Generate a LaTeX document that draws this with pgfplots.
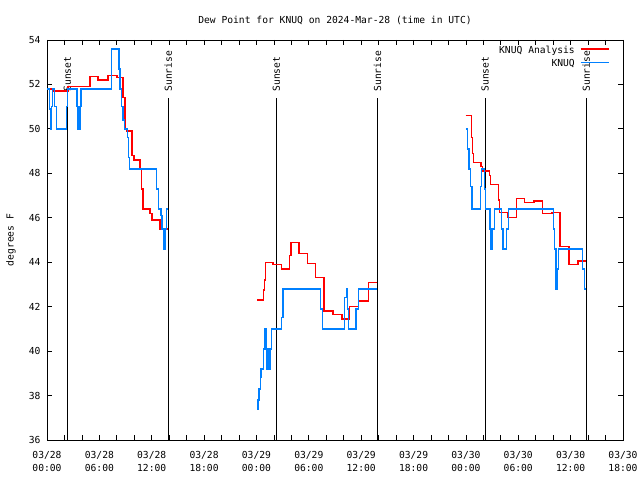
\documentclass[border=0pt]{standalone}
\usepackage{fontspec}
\setmainfont{DejaVu Sans Mono}
\usepackage{pgfplots}
\pgfplotsset{compat=1.18}
\definecolor{anared}{RGB}{255,0,0}
\definecolor{obsblue}{RGB}{0,128,255}

\begin{document}
\begin{tikzpicture}[font=\fontsize{9.7}{13}\selectfont]
\path[use as bounding box] (-47bp,-40bp) rectangle (593bp,440bp);
\begin{axis}[
    at={(0,0)}, anchor=south west,
    scale only axis, width=576bp, height=400bp,
    xmin=0, xmax=66, ymin=36, ymax=54,
    xtick={0,6,...,66},
    minor x tick num=2,
    xticklabels={{03/28\\00:00},{03/28\\06:00},{03/28\\12:00},{03/28\\18:00},
                 {03/29\\00:00},{03/29\\06:00},{03/29\\12:00},{03/29\\18:00},
                 {03/30\\00:00},{03/30\\06:00},{03/30\\12:00},{03/30\\18:00}},
    xticklabel style={align=center, yshift=-8bp},
    yticklabel style={xshift=-3bp},
    ytick={36,38,...,54},
    tick align=inside,
    major tick length=5bp, minor tick length=5bp,
    tick style={black, line width=0.8bp},
    axis line style={line width=0.8bp},
    /pgf/number format/assume math mode=true,
    title={Dew Point for KNUQ on 2024-Mar-28 (time in UTC)},
    title style={at={(axis description cs:0.5,1.035)}, anchor=center, inner sep=0pt},
    ylabel={degrees F},
    ylabel style={at={(axis description cs:-0.0625,0.5)}, anchor=center, inner sep=0pt},
    every axis plot/.append style={line width=1.3bp, const plot mark left},
]
% sunset / sunrise markers and labels first, so the legend lies over them
\addplot[black, line width=1bp, forget plot] coordinates {(2.33,36) (2.33,51.4)};
\addplot[black, line width=1bp, forget plot] coordinates {(13.90,36) (13.90,51.4)};
\addplot[black, line width=1bp, forget plot] coordinates {(26.27,36) (26.27,51.4)};
\addplot[black, line width=1bp, forget plot] coordinates {(37.87,36) (37.87,51.4)};
\addplot[black, line width=1bp, forget plot] coordinates {(50.20,36) (50.20,51.4)};
\addplot[black, line width=1bp, forget plot] coordinates {(61.80,36) (61.80,51.4)};
\node[rotate=90, anchor=west, inner sep=0pt] at (axis cs:2.33,51.67) {Sunset};
\node[rotate=90, anchor=west, inner sep=0pt] at (axis cs:13.90,51.67) {Sunrise};
\node[rotate=90, anchor=west, inner sep=0pt] at (axis cs:26.27,51.67) {Sunset};
\node[rotate=90, anchor=west, inner sep=0pt] at (axis cs:37.87,51.67) {Sunrise};
\node[rotate=90, anchor=west, inner sep=0pt] at (axis cs:50.20,51.67) {Sunset};
\node[rotate=90, anchor=west, inner sep=0pt] at (axis cs:61.80,51.67) {Sunrise};
% KNUQ Analysis (red), three daytime segments
\addplot[anared] coordinates {
(0.00,51.8) (0.80,51.7) (2.40,51.9) (4.93,52.35) (5.84,52.2) (6.99,52.4)
(8.02,52.3) (8.71,51.4) (8.94,50.0) (9.17,49.9) (9.74,48.8) (9.97,48.6)
(10.66,48.2) (10.83,47.3) (11.00,46.4) (11.80,46.2) (12.03,45.9) (12.95,45.5)
(13.87,45.5)};
\addplot[anared] coordinates {
(24.10,42.3) (24.79,42.75) (24.92,43.2) (25.04,44.0) (25.90,43.9) (26.89,43.7)
(27.79,44.3) (27.96,44.9) (28.88,44.4) (29.85,43.95) (30.77,43.3) (31.74,41.8)
(32.77,41.65) (33.80,41.45) (34.66,42.0) (35.69,42.25) (36.84,43.1) (37.85,43.1)};
\addplot[anared] coordinates {
(47.98,50.6) (48.64,49.6) (48.73,48.9) (48.90,48.5) (49.73,48.3) (49.90,48.1)
(50.70,47.9) (50.82,47.5) (51.74,46.8) (51.85,46.25) (52.77,46.0) (53.80,46.87)
(54.72,46.7) (55.81,46.75) (56.78,46.2) (57.87,46.25) (58.78,44.7) (59.81,43.9)
(60.85,44.05) (61.77,44.05)};
% KNUQ observations (blue)
\addplot[obsblue] coordinates {
(0.00,51.8) (0.29,50.9) (0.40,50.0) (0.52,51.0) (0.63,51.8) (0.86,51.0)
(1.09,50.0) (2.23,51.0) (2.35,51.8) (3.44,51.0) (3.55,50.0) (3.78,51.0)
(3.90,51.8) (7.39,53.6) (8.25,52.7) (8.36,51.8) (8.54,51.0) (8.71,50.4)
(8.88,50.0) (9.22,49.6) (9.34,48.7) (9.43,48.2) (12.57,47.3) (12.75,46.4)
(13.06,46.1) (13.18,45.5) (13.35,44.6) (13.52,45.5) (13.69,46.4) (13.87,46.4)};
\addplot[obsblue] coordinates {
(24.10,37.4) (24.18,37.8) (24.29,38.3) (24.44,38.8) (24.52,39.2) (24.81,40.1)
(24.98,41.0) (25.13,39.2) (25.32,40.1) (25.47,39.2) (25.61,40.1) (25.75,41.0)
(26.89,41.5) (27.04,42.8) (31.34,41.9) (31.57,41.0) (34.07,42.4) (34.32,42.8)
(34.43,41.9) (34.55,41.0) (35.41,41.9) (35.69,42.8) (37.85,42.8)};
\addplot[obsblue] coordinates {
(48.01,50.0) (48.18,49.1) (48.35,48.2) (48.52,47.4) (48.70,46.4) (49.70,47.4)
(49.79,48.2) (50.14,47.3) (50.25,46.4) (50.76,45.5) (50.88,44.6) (51.05,45.5)
(51.28,46.4) (52.08,45.5) (52.25,44.6) (52.68,45.5) (52.86,46.4) (58.02,45.5)
(58.15,44.6) (58.32,42.8) (58.44,43.7) (58.61,44.6) (61.38,43.7) (61.59,42.8)
(61.77,42.8)};
% legend: text right-aligned, sample line to its right
\node[anchor=east, inner sep=0pt] at (axis cs:60.5,53.53) {KNUQ Analysis};
\node[anchor=east, inner sep=0pt] at (axis cs:60.5,52.95) {KNUQ};
\addplot[anared, line width=1.3bp, sharp plot] coordinates {(61.15,53.6) (64.45,53.6)};
\addplot[obsblue, line width=1.3bp, sharp plot] coordinates {(61.15,53.0) (64.45,53.0)};
\end{axis}
\end{tikzpicture}
\end{document}
